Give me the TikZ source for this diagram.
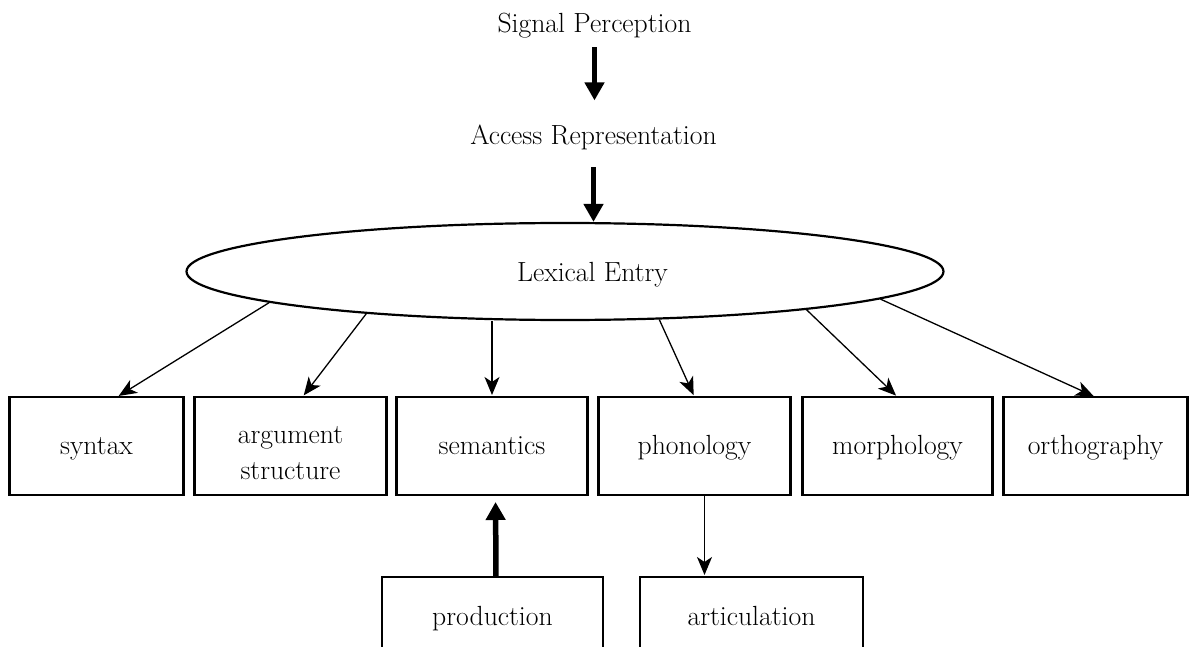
\documentclass[tikz,border=0pt]{standalone}
\usepackage{fontspec}
\usepackage{tikz}
\usetikzlibrary{positioning,arrows.meta,shapes.geometric}
\tikzstyle{word} = [font=\fontsize{27.7}{36}\selectfont, inner sep=0pt, outer sep=0pt]
\tikzstyle{module} = [
  rectangle, draw=black, line width=2.7pt,
  minimum height=98pt, inner sep=0pt, outer sep=0pt,
  text height=22pt, text depth=6pt,
  font=\fontsize{27.7}{36}\selectfont
]
\tikzstyle{entry} = [ellipse, draw=black, line width=2.2pt, minimum width=757pt, minimum height=97pt, inner sep=0pt]
\tikzstyle{thinarrow} = [line width=1.3pt, -{Stealth[length=18pt, width=15pt, inset=5pt]}, shorten >=2pt]
\tikzstyle{thickarrow} = [line width=5.5pt, -{Triangle[length=18pt, width=19pt]}]

\begin{document}
\begin{tikzpicture}[x=1pt, y=-1pt]
        \path[use as bounding box, clip] (0,0) rectangle (1189,647);
        % Input ------------------------------------------------------------------------------------
        \node[word, anchor=base](signal) at (594.5,33){Signal Perception};
        \node[word, anchor=base](access) at (593.5,145){Access Representation};
        % Lexicon ----------------------------------------------------------------------------------
        \node[entry](lexical) at (565,271.5){};
        \node[word, anchor=base](lexical_text) at (592.5,281.5){Lexical Entry};
        % Modules ----------------------------------------------------------------------------------
        \node[module, minimum width=174pt](syntax) at (96.5,446){syntax};
        \node[module, minimum width=192pt, text height=72pt, right=11pt of syntax](argument){\begin{tabular}[b]{@{}c@{}}argument\\structure\end{tabular}};
        \node[module, minimum width=191pt, right=10pt of argument](semantics){semantics};
        \node[module, minimum width=192pt, right=11pt of semantics](phonology){phonology};
        \node[module, minimum width=190pt, right=12pt of phonology](morphology){morphology};
        \node[module, minimum width=184pt, right=11pt of morphology](orthography){orthography};
        % Output -----------------------------------------------------------------------------------
        \node[module, minimum width=221pt, minimum height=80pt](production) at (492.5,617){production};
        \node[module, minimum width=223pt, minimum height=80pt](articulation) at (751.5,617){articulation};
        % Arrows -----------------------------------------------------------------------------------
        \draw[thickarrow, shorten <=8.6pt, shorten >=25pt] (signal.south) -- (signal.south |- access.north);
        \draw[thickarrow, shorten <=16.6pt] (access.south) -- (access.south |- lexical.north);
        \draw[thinarrow] (lexical.186) -- ([xshift=20.5pt]syntax.north);
        \draw[thinarrow] (lexical.192) -- ([xshift=12pt]argument.north);
        \draw[thinarrow] (semantics.north |- lexical.south) -- (semantics.north);
        \draw[thinarrow] (lexical.333) -- (phonology.north);
        \draw[thinarrow] (lexical.351) -- (morphology.north);
        \draw[thinarrow] (lexical.355) -- (orthography.north);
        \draw[thickarrow, shorten >=7pt] ([xshift=3.5pt]production.north) -- ([xshift=3.5pt]semantics.south);
        \draw[thinarrow] ([xshift=10pt]phonology.south) -- ([xshift=10pt]phonology.south |- articulation.north);
    \end{tikzpicture}
\end{document}
